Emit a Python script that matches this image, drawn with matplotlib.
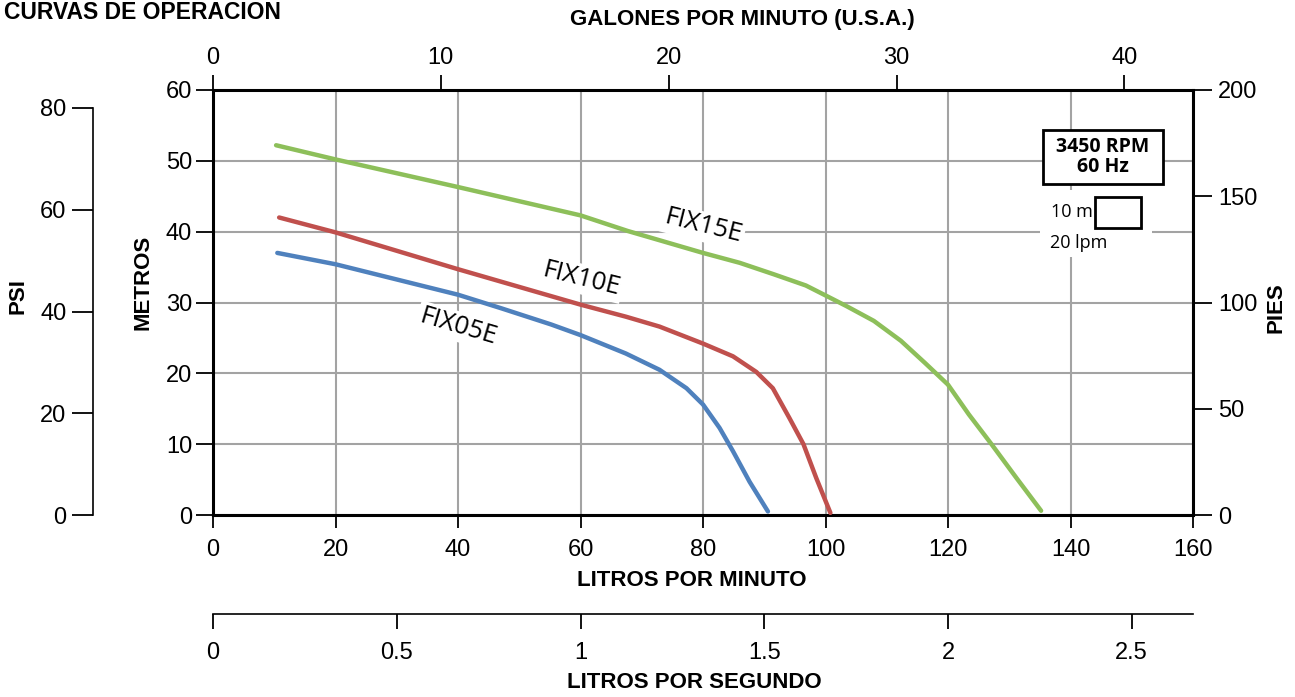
import numpy as np
import matplotlib
matplotlib.use("Agg")
import matplotlib.pyplot as plt
from matplotlib.patches import Rectangle

# --- data (LPM, metros) ---
fix15e_q = [10.3, 20, 40, 60, 67.7, 80, 86.0, 91.5, 96.8, 100, 103.4, 107.9, 112.3, 116.2,
            120, 123.4, 127.1, 131.2, 135.2]
fix15e_h = [52.2, 50.2, 46.3, 42.3, 40.1, 37.0, 35.6, 34.0, 32.4, 31.0, 29.5, 27.4, 24.6, 21.5,
            18.4, 14.2, 10.0, 5.2, 0.6]

fix10e_q = [10.8, 20, 40, 60, 67.4, 72.9, 80, 84.9, 88.7, 91.4, 94.1, 96.4, 98.5, 100.8]
fix10e_h = [42.0, 39.9, 34.7, 29.7, 28.0, 26.6, 24.2, 22.4, 20.2, 17.9, 13.7, 10.0, 5.2, 0.3]

fix05e_q = [10.5, 20, 40, 47.0, 55.2, 60, 67.4, 72.9, 77.3, 80, 82.7, 84.9, 87.6, 90.6]
fix05e_h = [37.0, 35.4, 31.1, 29.2, 26.9, 25.4, 22.8, 20.5, 17.9, 15.6, 12.3, 9.0, 4.7, 0.5]

lpm_ticks = [0, 20, 40, 60, 80, 100, 120, 140, 160]
m_ticks = [0, 10, 20, 30, 40, 50, 60]
gpm_ticks = [0, 10, 20, 30, 40]
lps_ticks = [0, 0.5, 1, 1.5, 2, 2.5]
lps_labels = ["0", "0.5", "1", "1.5", "2", "2.5"]
ft_ticks = [0, 50, 100, 150, 200]
psi_ticks = [0, 20, 40, 60, 80]

LPM_PER_GAL = 3.72
GREEN = "#8DBF5A"
RED = "#C0504D"
BLUE = "#4F81BD"
GRID = "#A3A3A3"

SANS = ["Liberation Sans", "DejaVu Sans"]
LBL = ["Open Sans", "DejaVu Sans"]
plt.rcParams["font.family"] = SANS

W, H = 1295, 697
fig = plt.figure(figsize=(W / 100, H / 100), dpi=100)

def fx(px):
    return px / W

def fy(py):
    return 1 - py / H

ax = fig.add_axes([fx(213), fy(515), (1193 - 213) / W, (515 - 90) / H])
ax.set_xlim(0, 160)
ax.set_ylim(0, 60)
ax.set_xticks(lpm_ticks)
ax.set_yticks(m_ticks)
ax.grid(True, color=GRID, lw=1.5)
ax.set_axisbelow(True)
for s in ax.spines.values():
    s.set_linewidth(2.2)
ax.tick_params(axis="x", direction="out", length=9, width=1.3, pad=8, labelsize=17)
ax.tick_params(axis="y", direction="out", length=12, width=1.3, pad=3, labelsize=17)

ax.plot(fix15e_q, fix15e_h, color=GREEN, lw=3.2, solid_capstyle="round",
        solid_joinstyle="round", zorder=3)
ax.plot(fix10e_q, fix10e_h, color=RED, lw=3.2, solid_capstyle="round",
        solid_joinstyle="round", zorder=3)
ax.plot(fix05e_q, fix05e_h, color=BLUE, lw=3.2, solid_capstyle="round",
        solid_joinstyle="round", zorder=3)

box = dict(boxstyle="square,pad=0.1", fc="white", ec="none")
ax.text(80, 40.7, "FIX15E", rotation=-14, ha="center", va="center", fontsize=18.5,
        family=LBL, bbox=box, zorder=4)
ax.text(60.2, 33.3, "FIX10E", rotation=-14, ha="center", va="center", fontsize=18.5,
        family=LBL, bbox=box, zorder=4)
ax.text(40, 26.6, "FIX05E", rotation=-16.5, ha="center", va="center", fontsize=18.5,
        family=LBL, bbox=box, zorder=4)

# speed box and scale note
ax.add_patch(Rectangle((135.5, 46.7), 19.6, 7.7, fc="white", ec="black", lw=2, zorder=4))
ax.text(145.3, 50.5, "3450 RPM\n60 Hz", ha="center", va="center", fontsize=14,
        fontweight="bold", family=LBL, linespacing=1.0, zorder=5)
ax.add_patch(Rectangle((135.0, 36.4), 18.3, 9.5, fc="white", ec="none", zorder=2))
ax.add_patch(Rectangle((144.0, 40.5), 7.5, 4.4, fc="white", ec="black", lw=2, zorder=4))
ax.text(143.7, 42.8, "10 m", ha="right", va="center", fontsize=13, family=LBL, zorder=5)
ax.text(136.7, 38.4, "20 lpm", ha="left", va="center", fontsize=13, family=LBL, zorder=5)

# top axis: gallons per minute
top = ax.secondary_xaxis("top", functions=(lambda q: q / LPM_PER_GAL, lambda g: g * LPM_PER_GAL))
top.set_xticks(gpm_ticks)
top.spines["top"].set_visible(False)
top.tick_params(direction="out", length=11, width=1.3, pad=4, labelsize=17)

# bottom axis: litres per second
lps = ax.secondary_xaxis(-0.233, functions=(lambda q: q / 60, lambda s: s * 60))
lps.set_xticks(lps_ticks)
lps.set_xticklabels(lps_labels)
lps.spines["bottom"].set_linewidth(1.2)
lps.tick_params(direction="out", length=11, width=1.3, pad=9, labelsize=17)

# right axis: feet
axr = ax.twinx()
axr.set_ylim(0, 200)
axr.set_yticks(ft_ticks)
axr.tick_params(direction="out", length=14, width=1.3, pad=4, labelsize=17)
for s in axr.spines.values():
    s.set_visible(False)

# left offset axis: psi
axp = ax.twinx()
axp.set_ylim(0, 80 * 425 / 407)
axp.set_yticks(psi_ticks)
axp.yaxis.set_ticks_position("left")
for k, s in axp.spines.items():
    s.set_visible(k == "left")
axp.spines["left"].set_position(("axes", (93 - 213) / 980))
axp.spines["left"].set_bounds(0, 80)
axp.spines["left"].set_linewidth(1.2)
axp.tick_params(direction="out", length=15, width=1.3, pad=4, labelsize=17)

# titles
bold = dict(fontweight="bold", fontsize=16, ha="center", va="center")
fig.text(fx(4), fy(1), "CURVAS DE OPERACION", fontweight="bold", fontsize=16.5,
         ha="left", va="top")
fig.text(fx(742), fy(20), "GALONES POR MINUTO (U.S.A.)", **bold)
fig.text(fx(692), fy(580), "LITROS POR MINUTO", **bold)
fig.text(fx(694), fy(683), "LITROS POR SEGUNDO", **bold)
fig.text(fx(18), fy(296), "PSI", rotation=90, **bold)
fig.text(fx(143), fy(282), "METROS", rotation=90, **bold)
fig.text(fx(1276), fy(308), "PIES", rotation=90, **bold)

fig.savefig("out.png", dpi=100)
